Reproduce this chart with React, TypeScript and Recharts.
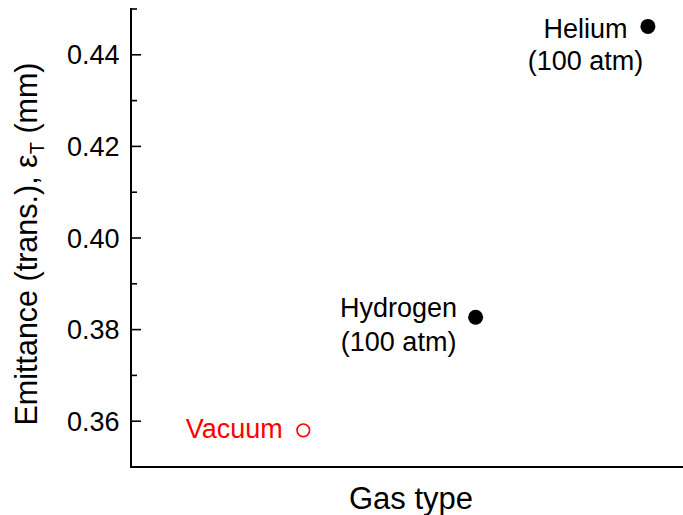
import React from 'react';
import { ScatterChart, Scatter, XAxis, YAxis } from 'recharts';

// gas samples, left to right along the (unlabelled) x axis
const gasNames = ['Vacuum', 'Hydrogen', 'Helium'];
const gasNotes = ['', '(100 atm)', '(100 atm)'];
const gasPositions = [1, 2, 3];
// transverse emittance, mm
const emittance = [0.358, 0.3827, 0.4462];

const yTicks = [0.35, 0.36, 0.37, 0.38, 0.39, 0.4, 0.41, 0.42, 0.43, 0.44, 0.45];
const yTickLabels = ['', '0.36', '', '0.38', '', '0.40', '', '0.42', '', '0.44', ''];

const FONT = '"Liberation Sans", Arial, Helvetica, sans-serif';
const INK = '#000';

// centre of each annotation block, relative to its marker
const labelLayout = [
  { dx: -69, dy: 7.5, lineGap: 0, color: '#ff0000', hollow: true },
  { dx: -77, dy: -0.5, lineGap: 34, color: INK, hollow: false },
  { dx: -62.5, dy: 12, lineGap: 32, color: INK, hollow: false },
];

const data = gasNames.map((name, i) => ({
  x: gasPositions[i],
  y: emittance[i],
  name,
  note: gasNotes[i],
  i,
}));

function GasPoint(props: any) {
  const { cx, cy, payload } = props;
  const look = labelLayout[payload.i];
  return (
    <g>
      {look.hollow ? (
        <circle cx={cx} cy={cy} r={6.3} fill="none" stroke={look.color} strokeWidth={1.6} />
      ) : (
        <circle cx={cx} cy={cy} r={7.5} fill={look.color} />
      )}
      <text
        x={cx + look.dx}
        y={cy + look.dy}
        textAnchor="middle"
        fill={look.color}
        fontSize={27}
        fontFamily={FONT}
      >
        {payload.name}
      </text>
      {payload.note && (
        <text
          x={cx + look.dx}
          y={cy + look.dy + look.lineGap}
          textAnchor="middle"
          fill={look.color}
          fontSize={27}
          fontFamily={FONT}
        >
          {payload.note}
        </text>
      )}
    </g>
  );
}

function LeftTick(props: any) {
  const { x, y, index } = props;
  const label = yTickLabels[index];
  const len = label ? 10 : 6;
  return (
    <g>
      <line x1={x} x2={x + len} y1={y} y2={y} stroke={INK} strokeWidth={1.6} />
      {label && (
        <text
          x={x - 11.5}
          y={y + 9.5}
          textAnchor="end"
          fill={INK}
          fontSize={27}
          fontFamily={FONT}
        >
          {label}
        </text>
      )}
    </g>
  );
}

function RightTick(props: any) {
  const { x, y, index } = props;
  const len = yTickLabels[index] ? 10 : 6;
  return <line x1={x} x2={x - len} y1={y} y2={y} stroke={INK} strokeWidth={1.6} />;
}

function YTitle(props: any) {
  const { viewBox } = props;
  const cy = viewBox.y + viewBox.height / 2 + 6;
  const cx = 37;
  return (
    <text
      x={cx}
      y={cy}
      transform={`rotate(-90 ${cx} ${cy})`}
      textAnchor="middle"
      fill={INK}
      fontSize={30.5}
      fontFamily={FONT}
    >
      Emittance (trans.), ε
      <tspan fontSize={20} dy={7}>T</tspan>
      <tspan dy={-7}> (mm)</tspan>
    </text>
  );
}

function XTitle(props: any) {
  const { viewBox } = props;
  return (
    <text
      x={viewBox.x + viewBox.width / 2}
      y={viewBox.y + 41.5}
      textAnchor="middle"
      fill={INK}
      fontSize={31}
      fontFamily={FONT}
    >
      Gas type
    </text>
  );
}

const axisLine = { stroke: INK, strokeWidth: 2, strokeLinecap: 'square' as const };

export default function App() {
  return (
    <div
      style={{
        position: 'absolute',
        left: 0,
        top: 0,
        width: 683,
        height: 515,
        overflow: 'hidden',
        background: '#fff',
      }}
    >
      <ScatterChart width={700} height={515} margin={{ top: 9, right: 9, bottom: 0, left: 0 }}>
        <XAxis
          xAxisId="bottom"
          type="number"
          dataKey="x"
          domain={[0, 3.25]}
          tick={false}
          tickLine={false}
          axisLine={axisLine}
          height={48}
          label={{ content: XTitle }}
        />
        <XAxis
          xAxisId="top"
          orientation="top"
          type="number"
          domain={[0, 3.25]}
          tick={false}
          tickLine={false}
          axisLine={axisLine}
          height={0}
        />
        <YAxis
          yAxisId="left"
          type="number"
          dataKey="y"
          domain={[0.35, 0.45]}
          ticks={yTicks}
          interval={0}
          tickSize={0}
          tickMargin={0}
          tickLine={false}
          tick={<LeftTick />}
          axisLine={axisLine}
          width={131}
          label={{ content: YTitle }}
        />
        <YAxis
          yAxisId="right"
          orientation="right"
          type="number"
          domain={[0.35, 0.45]}
          ticks={yTicks}
          interval={0}
          tickSize={0}
          tickMargin={0}
          tickLine={false}
          tick={<RightTick />}
          axisLine={axisLine}
          width={0}
        />
        <Scatter
          data={data}
          xAxisId="bottom"
          yAxisId="left"
          shape={GasPoint}
          isAnimationActive={false}
        />
      </ScatterChart>
    </div>
  );
}
